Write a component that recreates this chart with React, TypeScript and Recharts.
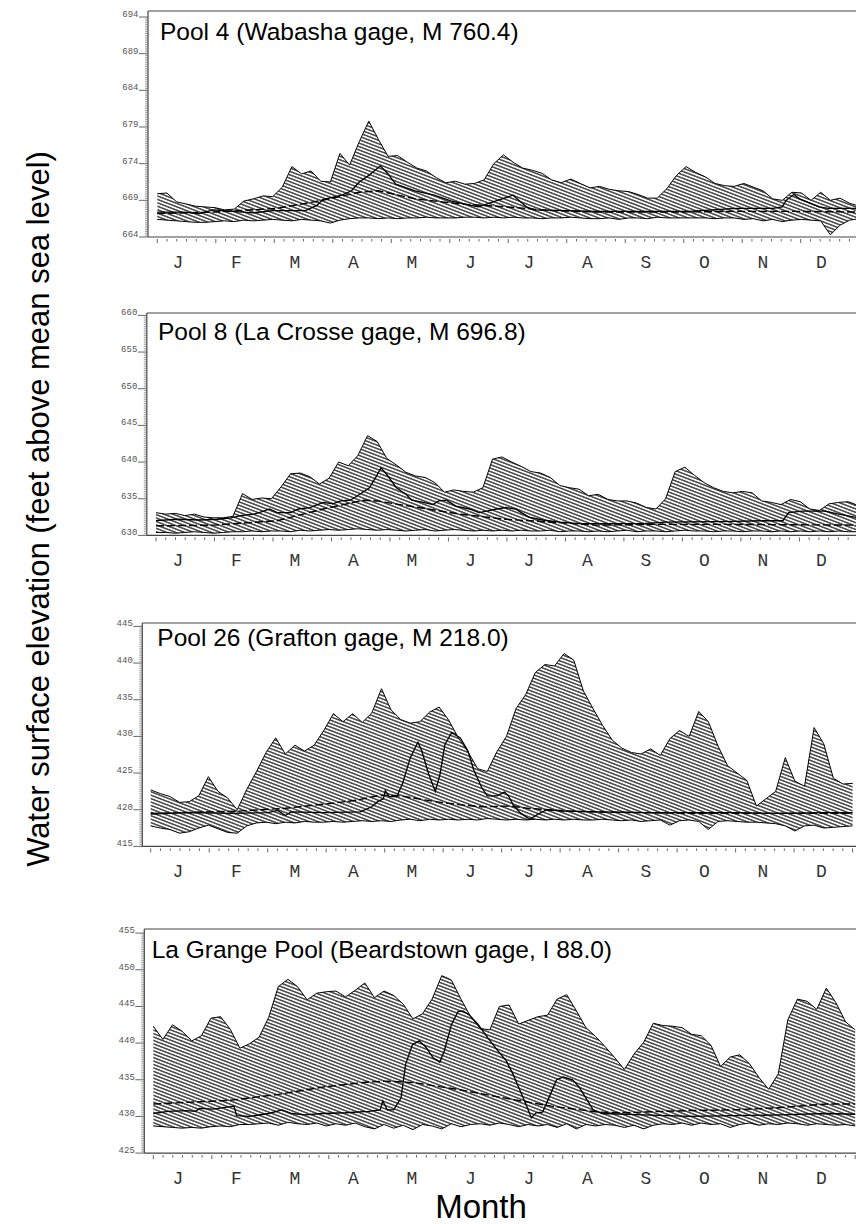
import React from 'react';
import { ComposedChart, Area, Line, XAxis, YAxis, ReferenceLine } from 'recharts';

// ---------- categories / tick labels ----------
const DAYS = [0,5,10,15,20,25,30,35,40,45,50,55,60,65,70,75,80,85,90,95,100,105,110,115,120,125,130,135,140,145,150,155,160,165,170,175,180,185,190,195,200,205,210,215,220,225,230,235,240,245,250,255,260,265,270,275,280,285,290,295,300,305,310,315,320,325,330,335,340,345,350,355,360,365];
const MONTHS = ['J','F','M','A','M','J','J','A','S','O','N','D'];

const P1_TICKS = [664,669,674,679,684,689,694];
const P2_TICKS = [630,635,640,645,650,655,660];
const P3_TICKS = [415,420,425,430,435,440,445];
const P4_TICKS = [425,430,435,440,445,450,455];

// ---------- Pool 4 ----------
const P1_MAX = [669.9,670.0,668.8,668.5,668.2,668.1,668.0,667.7,667.8,668.9,
669.2,669.6,669.5,670.8,673.6,672.6,673.0,671.6,671.5,675.4,
673.8,677.0,679.8,677.3,675.0,675.1,674.2,673.4,673.0,672.1,
671.4,671.6,671.2,671.3,671.8,674.0,675.2,674.2,673.4,673.1,
672.7,671.8,671.4,671.9,671.3,670.7,670.9,670.5,670.3,670.2,
669.8,669.3,669.3,670.6,672.4,673.6,672.8,672.2,671.3,671.0,
670.9,671.3,670.8,670.3,669.2,669.0,670.1,670.0,669.0,670.1,
669.0,669.3,668.6,668.2];
const P1_MIN = [666.4,666.3,666.2,666.1,666.0,666.0,666.1,666.2,666.1,666.3,
666.2,666.3,666.4,666.3,666.2,666.4,666.3,666.2,665.9,666.3,
666.5,666.6,666.6,666.5,666.6,666.5,666.6,666.6,666.7,666.6,
666.6,666.6,666.7,666.7,666.6,666.7,666.6,666.7,666.6,666.6,
666.5,666.6,666.6,666.7,666.6,666.5,666.5,666.6,666.4,666.6,
666.6,666.5,666.7,666.6,666.6,666.6,666.6,666.6,666.5,666.6,
666.6,666.4,666.5,666.2,666.4,666.1,666.3,666.4,666.3,666.2,
664.3,665.6,666.3,666.5];
const P1_SOLID_DAYS = [0,14,22,29,39,50,60,77,83,86,96,101,105,110,116,120,124,134,144,153,163,167,177,185,192,196,229,253,277,301,320,325,327,331,334,344,349,365];
const P1_SOLID = [667.4,667.4,667.2,667.7,667.5,667.3,667.6,667.6,668.3,669.1,669.7,670.3,671.5,672.4,673.7,672.6,671.2,670.3,669.7,668.9,668.3,668.1,669.0,669.7,668.1,667.7,667.5,667.5,667.5,667.9,667.9,668.1,669.0,669.8,669.2,668.1,667.9,667.9];
const P1_MEAN_DAYS = [0,30,62,86,105,115,134,158,182,205,229,270,300,330,365];
const P1_MEAN = [667.2,667.4,667.9,669.0,670.1,670.3,669.2,668.5,668.1,667.6,667.4,667.4,667.5,667.5,667.4];

// ---------- Pool 8 ----------
const P2_MAX = [633.1,632.9,633.0,632.7,632.9,632.5,632.4,632.4,632.6,635.7,
634.9,635.1,635.0,636.6,638.4,638.5,638.0,637.0,637.8,640.0,
639.5,640.9,643.6,642.8,640.5,639.6,638.6,638.1,637.9,637.2,
635.9,636.2,636.0,635.9,636.5,640.4,640.7,640.0,639.4,638.7,
638.5,637.9,636.8,636.5,636.3,635.4,635.6,634.9,634.7,634.7,
634.4,633.8,633.6,635.0,638.7,639.3,638.2,637.2,636.5,636.0,
635.8,636.0,635.8,634.7,634.5,634.2,634.9,634.6,633.6,633.4,
634.3,634.5,634.6,634.1];
const P2_MIN = [630.4,630.4,630.3,630.4,630.5,630.4,630.3,630.4,630.5,630.5,
630.6,630.5,630.6,630.6,630.5,630.7,630.6,630.7,630.8,630.7,
630.8,630.9,630.8,630.7,630.8,630.7,630.6,630.7,630.8,630.6,
630.7,630.8,630.7,630.6,630.7,630.6,630.7,630.6,630.7,630.6,
630.6,630.7,630.5,630.6,630.6,630.5,630.6,630.5,630.6,630.7,
630.5,630.6,630.6,630.5,630.6,630.7,630.6,630.6,630.5,630.6,
630.6,630.5,630.6,630.6,630.5,630.6,630.5,630.6,630.5,630.6,
630.5,630.6,630.5,630.5];
const P2_SOLID_DAYS = [0,11,23,32,39,44,51,56,59,63,70,74,80,87,92,96,101,106,111,114,117,120,125,130,133,139,144,147,151,156,163,168,172,177,182,187,190,194,201,210,220,253,265,301,315,326,329,336,348,355,365];
const P2_SOLID = [632.0,632.2,632.1,632.2,632.4,632.7,632.9,633.3,633.6,633.1,633.1,633.6,633.8,634.5,634.3,634.7,634.8,635.6,636.5,637.8,639.2,638.3,636.5,635.6,634.8,634.5,634.2,634.7,634.8,634.0,633.6,633.1,633.3,633.6,633.8,633.6,633.1,632.5,632.1,631.8,631.6,631.6,631.8,631.9,632.0,632.0,633.1,633.3,633.3,632.9,632.4];
const P2_MEAN_DAYS = [0,30,63,87,108,115,134,158,182,206,229,260,300,365];
const P2_MEAN = [631.3,631.4,632.0,633.6,634.8,634.7,633.9,632.9,632.2,631.8,631.4,631.5,631.5,631.4];

// ---------- Pool 26 ----------
const P3_MAX = [422.7,422.2,421.8,421.0,421.1,421.9,424.5,422.5,421.6,420.0,
422.8,425.2,427.8,429.8,427.6,428.8,428.0,428.8,430.8,433.1,
432.0,433.1,431.9,433.2,436.5,433.6,432.3,431.8,432.0,433.3,
434.0,432.2,429.8,427.9,425.6,425.2,427.9,430.0,433.8,435.7,
438.7,439.8,439.6,441.3,440.4,436.2,433.8,431.5,429.5,428.4,
427.8,427.6,428.3,427.4,429.7,430.8,430.0,433.4,432.0,428.7,
426.0,425.0,424.0,420.5,421.5,422.5,427.1,423.9,423.2,431.2,
429.0,424.3,423.5,423.6];
const P3_MIN = [417.8,417.5,417.3,416.8,417.0,417.5,417.9,417.4,416.9,416.8,
417.8,418.2,418.3,418.1,418.3,418.2,418.4,418.3,418.3,418.4,
418.3,418.4,418.5,418.4,418.5,418.4,418.6,418.7,418.5,418.7,
418.6,418.7,418.6,418.7,418.6,418.8,418.7,418.6,418.7,418.6,
418.7,418.6,418.7,418.6,418.7,418.6,418.6,418.7,418.6,418.5,
418.6,418.4,418.5,418.6,417.9,418.5,418.6,418.4,417.3,418.4,
418.5,418.4,418.3,418.3,418.2,418.1,417.8,417.1,417.8,417.9,
417.5,417.6,417.7,417.8];
const P3_SOLID_DAYS = [0,18,42,61,66,70,73,90,109,115,118,121,122,124,128,131,135,139,141,144.5,148,150.5,153,156.5,161,165,168,172,175,180,184,186,188.5,192,197,201.5,206,213.5,232,256,280,304,327,351,365];
const P3_SOLID = [419.4,419.6,419.5,419.6,419.9,419.2,419.7,419.6,419.7,420.4,421.1,421.5,422.6,421.8,421.8,423.6,427.1,429.2,428.0,424.9,422.5,424.9,428.9,430.5,429.8,428.0,425.4,423.1,421.9,421.9,422.4,421.9,420.7,419.6,418.7,419.4,420.0,419.8,419.7,419.6,419.6,419.6,419.5,419.6,419.6];
const P3_MEAN_DAYS = [0,45,70,95,107,118,124,132,148,160,172,187,196,207,219,232,256,280,365];
const P3_MEAN = [419.5,419.8,420.2,420.9,421.3,421.9,422.0,421.8,421.1,420.7,420.4,420.5,420.2,420.0,419.8,419.7,419.6,419.5,419.5];

// ---------- La Grange ----------
const P4_MAX = [442.3,440.5,442.5,441.6,440.3,441.0,443.4,443.6,441.9,439.3,
439.9,440.8,443.5,447.7,448.7,447.7,445.9,446.8,447.0,447.1,
446.3,447.2,448.2,446.2,447.1,446.5,445.3,443.3,444.0,446.0,
449.2,448.6,446.0,443.6,442.0,441.8,445.0,445.2,442.6,443.1,
443.6,443.8,446.0,446.6,444.4,442.1,440.9,439.5,438.0,436.4,
438.5,440.1,442.7,442.4,442.3,442.1,441.2,441.0,439.7,436.8,
438.1,438.4,437.2,435.3,433.7,435.8,443.2,446.0,445.7,444.6,
447.5,445.5,442.9,441.8];
const P4_MIN = [428.7,428.6,428.5,428.4,428.5,428.4,428.6,428.7,428.6,428.9,
428.9,429.0,429.1,428.8,429.2,429.0,428.9,429.1,428.7,429.0,
428.8,429.1,428.6,428.3,428.9,428.4,428.8,428.2,428.9,428.7,
428.3,429.0,428.6,428.9,429.0,428.8,429.1,428.9,428.6,428.9,
428.7,428.9,428.5,429.0,428.3,428.9,428.7,428.9,428.8,428.5,
428.8,428.3,428.8,429.0,428.9,429.1,428.8,429.1,428.9,429.0,
428.5,428.9,429.1,428.8,429.0,428.9,429.1,429.0,428.8,429.0,
428.9,428.8,428.9,428.7];
const P4_SOLID_DAYS = [0,7.6,17,22,24,31,42,43.3,50,60,67,72,79,88,100,112,118,119.3,121.7,125,128.8,131.2,134.8,138.3,141.9,145.5,149,151.4,155,158.5,161,164.5,169,174,179,183.5,187,190.6,194.2,196.6,199,202.5,206,209.7,213.2,218,221.5,225,228.7,233.4,255,279,302,326,350,365];
const P4_SOLID = [430.4,430.7,430.8,430.7,431.1,431.0,431.4,430.1,430.0,430.4,430.9,430.4,430.2,430.4,430.5,430.7,430.9,432.1,430.9,430.9,432.5,437.1,439.8,440.3,439.4,438.0,437.4,439.0,442.5,444.3,444.4,443.8,442.5,440.7,439.0,437.6,435.8,433.6,431.4,429.8,430.5,430.6,432.7,435.0,435.4,435.0,434.0,432.5,430.9,430.4,430.2,430.0,430.1,430.2,430.4,430.3];
const P4_MEAN_DAYS = [0,40,65,88,112,122,136,160,187,207,219,231,243,255,279,302,326,350,365];
const P4_MEAN = [431.7,432.2,433.0,434.0,434.7,434.8,434.6,433.6,432.3,431.4,431.0,430.6,430.5,430.6,430.8,430.9,431.2,431.7,431.7];

// ---------- layout (positions only) ----------
const PX_PER_DAY = 1.923;
const X_MAX = 372;
const MT = 4;
const XH = 46;

type Cfg = {
  title: string; titleX: number; titleY: number;
  axisX: number; dataX: number; top: number; tickTopY: number; bottom: number;
  ticks: number[]; max: number[]; min: number[];
  solidDays: number[]; solid: number[]; meanDays: number[]; mean: number[];
};

const PANELS: Cfg[] = [
  { title: 'Pool 4 (Wabasha gage, M 760.4)', titleX: 160, titleY: 39.5, axisX: 148, dataX: 157.3, top: 10.7, tickTopY: 16.7, bottom: 236.7,
    ticks: P1_TICKS, max: P1_MAX, min: P1_MIN, solidDays: P1_SOLID_DAYS, solid: P1_SOLID, meanDays: P1_MEAN_DAYS, mean: P1_MEAN },
  { title: 'Pool 8 (La Crosse gage, M 696.8)', titleX: 158, titleY: 340, axisX: 146.8, dataX: 156, top: 312.7, tickTopY: 315.1, bottom: 535.1,
    ticks: P2_TICKS, max: P2_MAX, min: P2_MIN, solidDays: P2_SOLID_DAYS, solid: P2_SOLID, meanDays: P2_MEAN_DAYS, mean: P2_MEAN },
  { title: 'Pool 26 (Grafton gage, M 218.0)', titleX: 157.3, titleY: 645.7, axisX: 142.3, dataX: 150.7, top: 622.7, tickTopY: 626.1, bottom: 846.1,
    ticks: P3_TICKS, max: P3_MAX, min: P3_MIN, solidDays: P3_SOLID_DAYS, solid: P3_SOLID, meanDays: P3_MEAN_DAYS, mean: P3_MEAN },
  { title: 'La Grange Pool (Beardstown gage, I 88.0)', titleX: 151.7, titleY: 957.7, axisX: 144.3, dataX: 153.3, top: 929.3, tickTopY: 933.4, bottom: 1153.4,
    ticks: P4_TICKS, max: P4_MAX, min: P4_MIN, solidDays: P4_SOLID_DAYS, solid: P4_SOLID, meanDays: P4_MEAN_DAYS, mean: P4_MEAN },
];

const LABEL_X0 = 178; // absolute x of first month label

function Panel({ cfg }: { cfg: Cfg }) {
  const xMin = -(cfg.dataX - cfg.axisX) / PX_PER_DAY;
  const plotW = (X_MAX - xMin) * PX_PER_DAY;
  const width = cfg.axisX + plotW;
  const plotH = cfg.bottom - cfg.top;
  const height = MT + plotH + XH;
  const yMin = cfg.ticks[0];
  const yTop = cfg.ticks[cfg.ticks.length - 1];
  const pxPerFt = (cfg.bottom - cfg.tickTopY) / (yTop - yMin);
  const yMax = yTop + (cfg.tickTopY - cfg.top) / pxPerFt;
  const axisY = MT + plotH;

  const rows = DAYS.map((d, i) => ({ d, band: [cfg.min[i], cfg.max[i]] }));
  const solid = cfg.solidDays.map((d, i) => ({ d, v: cfg.solid[i] }));
  const mean = cfg.meanDays.map((d, i) => ({ d, v: cfg.mean[i] }));

  const yTicks: number[] = [];
  for (let k = 0; k <= (yTop - yMin) * 4; k++) yTicks.push(yMin + k * 0.25);
  const xTicks: number[] = [];
  for (let i = 0; i <= 72; i++) xTicks.push((i * 365) / 72);
  const labelOff = LABEL_X0 - cfg.dataX;

  const yTick = (props: any) => {
    const { y, payload } = props;
    const v = payload.value;
    const major = cfg.ticks.some((t) => Math.abs(t - v) < 1e-6);
    if (major) {
      return (
        <g>
          <line x1={cfg.axisX - 9} x2={cfg.axisX} y1={y} y2={y} stroke="#555" strokeWidth={0.9} />
          <text x={cfg.axisX - 9.5} y={y} textAnchor="end" fontSize={9} fontFamily="'Liberation Mono', monospace" fill="#555">{v}</text>
        </g>
      );
    }
    return <line x1={cfg.axisX - 3} x2={cfg.axisX} y1={y} y2={y} stroke="#666" strokeWidth={0.6} />;
  };

  const xTick = (props: any) => {
    const { x, payload } = props;
    const i = Math.round((payload.value * 72) / 365);
    const major = i % 6 === 0;
    return (
      <g>
        <line x1={x} x2={x} y1={axisY + 2} y2={axisY + (major ? 6 : 4.5)} stroke="#555" strokeWidth={0.9} />
        {major && i < 72 ? (
          <text x={x + labelOff} y={axisY + 31} textAnchor="middle" fontSize={18} fontFamily="'Liberation Mono', monospace" fill="#333">{MONTHS[i / 6]}</text>
        ) : null}
      </g>
    );
  };

  return (
    <div style={{ position: 'absolute', left: 0, top: cfg.top - MT }}>
      <ComposedChart width={width} height={height} data={rows} margin={{ top: MT, right: 0, bottom: 0, left: 0 }}>
        <XAxis type="number" dataKey="d" domain={[xMin, X_MAX]} ticks={xTicks} interval={0} tick={xTick}
          tickLine={false} axisLine={{ stroke: '#444', strokeWidth: 1.2 }} height={XH} allowDataOverflow />
        <YAxis type="number" domain={[yMin, yMax]} ticks={yTicks} interval={0} tick={yTick} width={cfg.axisX}
          tickLine={false} axisLine={{ stroke: '#444', strokeWidth: 1.2 }} allowDataOverflow />
        <ReferenceLine y={yMax} stroke="#444" strokeWidth={1.2} ifOverflow="visible" />
        <Area type="linear" dataKey="band" fill="url(#hatch)" fillOpacity={1} stroke="#000" strokeWidth={1}
          isAnimationActive={false} dot={false} activeDot={false} />
        <Line type="linear" data={mean} dataKey="v" stroke="#000" strokeWidth={1.4} strokeDasharray="8 3"
          isAnimationActive={false} dot={false} activeDot={false} />
        <Line type="linear" data={solid} dataKey="v" stroke="#000" strokeWidth={1.3}
          isAnimationActive={false} dot={false} activeDot={false} />
      </ComposedChart>
    </div>
  );
}

export default function App() {
  return (
    <div style={{ position: 'absolute', left: 0, top: 0, width: 856, height: 1224, overflow: 'hidden', background: '#fff' }}>
      <svg width={0} height={0} style={{ position: 'absolute' }}>
        <defs>
          <pattern id="hatch" patternUnits="userSpaceOnUse" width={10} height={3.2} patternTransform="rotate(21)">
            <line x1={-1} y1={1.6} x2={11} y2={1.6} stroke="#000" strokeWidth={1.1} />
          </pattern>
        </defs>
      </svg>
      {PANELS.map((p) => (
        <Panel key={p.title} cfg={p} />
      ))}
      <svg width={856} height={1224} style={{ position: 'absolute', left: 0, top: 0, pointerEvents: 'none' }}>
        {PANELS.map((p) => (
          <text key={p.title} x={p.titleX} y={p.titleY} fontSize={24.5} fontFamily="'Liberation Sans', Arial, sans-serif" fill="#000">{p.title}</text>
        ))}
        <text x={49} y={509} transform="rotate(-90 49 509)" textAnchor="middle" fontSize={31}
          fontFamily="'Liberation Sans', Arial, sans-serif" fill="#000">Water surface elevation (feet above mean sea level)</text>
        <text x={481} y={1218} textAnchor="middle" fontSize={33} fontFamily="'Liberation Sans', Arial, sans-serif" fill="#000">Month</text>
      </svg>
    </div>
  );
}
